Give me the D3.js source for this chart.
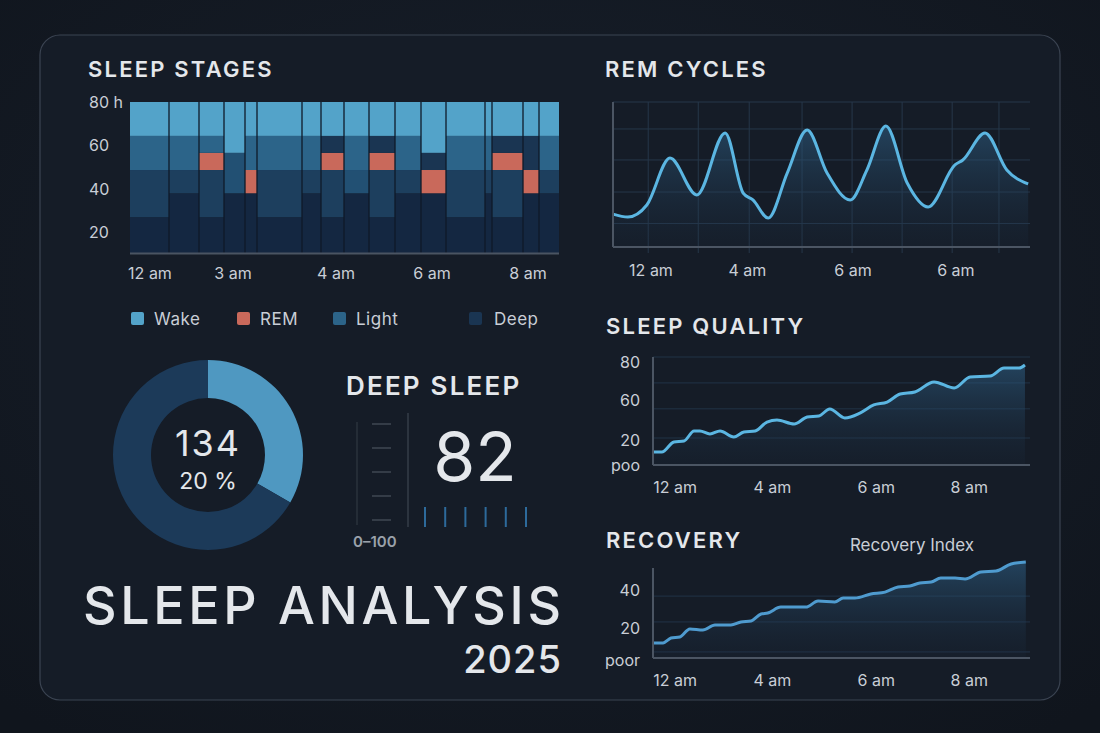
<!DOCTYPE html>
<html><head><meta charset="utf-8">
<script src="https://cdn.jsdelivr.net/npm/d3@7/dist/d3.min.js"></script>
<style>
html,body{margin:0;padding:0;background:#121821;}
svg{display:block;font-family:Inter,"Open Sans",sans-serif;}
</style></head><body>
<svg id="c" width="1100" height="733"></svg>
<script>
// ---------- DATA ----------
const stageColumns = [
  {d:39, segs:[["deep",27],["mid",48.7],["light",64.4],["wake",80]]},
  {d:30, segs:[["deep",38],["mid",48.7],["light",64.4],["wake",80]]},
  {d:25, segs:[["deep",27],["mid",48.7],["rem",56.6],["light",64.4],["wake",80]]},
  {d:21, segs:[["deep",38],["mid2",56.6],["wake",80]]},
  {d:12, segs:[["deep",38],["rem",48.7],["light",64.4],["wake",80]]},
  {d:45, segs:[["deep",27],["mid",48.7],["light",64.4],["wake",80]]},
  {d:19, segs:[["deep",38],["mid",48.7],["light",64.4],["wake",80]]},
  {d:23, segs:[["deep",27],["mid",48.7],["rem",56.6],["dark",64.4],["wake",80]]},
  {d:25, segs:[["deep",38],["mid2",48.7],["light",64.4],["wake",80]]},
  {d:26, segs:[["deep",27],["mid",48.7],["rem",56.6],["dark",64.4],["wake",80]]},
  {d:26, segs:[["deep",38],["mid",48.7],["light",64.4],["wake",80]]},
  {d:25, segs:[["deep",38],["rem",48.7],["dark",56.6],["wake",80]]},
  {d:39, segs:[["deep",27],["mid",48.7],["light",64.4],["wake",80]]},
  {d:7,  segs:[["deep",38],["mid",48.7],["light",64.4],["wake",80]]},
  {d:31, segs:[["deep",27],["mid",48.7],["rem",56.6],["dark",64.4],["wake",80]]},
  {d:16, segs:[["deep",38],["rem",48.7],["dark",64.4],["wake",80]]},
  {d:20, segs:[["deep",38],["mid",48.7],["light",64.4],["wake",80]]}
];
const stageBase = 10.5;
const stageYTicks = [20,40,60,80];
const stageYTickLabels = ["20","40","60","80 h"];
const stageXLabels = ["12 am","3 am","4 am","6 am","8 am"];
const stageXLabelMin = [20,103,206,302,398];
const legendItems = ["Wake","REM","Light","Deep"];

const remHours = [0,.32,.73,1.23,1.81,2.42,2.81,3.02,3.35,3.76,4.19,4.62,5.12,5.48,5.89,6.35,6.8,7.38,7.55,8.03,8.5,8.96];
const remValues = [22.4,20.4,28.6,60.5,35.4,77.6,36.7,32,19.7,50.3,79.6,50.3,32,52.4,82.3,43.5,27.2,55.8,59.2,77.6,52.4,42.9];
const remGridX = [.76,1.84,2.94,4.08,5.16,6.24,7.32,8.33];
const remGridY = [16,37.4,59.2,80.3];
const remXLabels = ["12 am","4 am","6 am","6 am"];
const remXLabelHours = [.82,2.9,5.18,7.4];

const qualHours = [0,.21,.5,.74,.98,1.12,1.36,1.6,1.93,2.17,2.44,2.72,2.96,3.37,3.68,3.96,4.22,4.58,4.94,5.27,5.59,5.9,6.25,6.71,7.19,7.57,8.05,8.38,8.74,8.88];
const qualValues = [12,12,21.3,22.2,31.5,31.5,28.7,31.5,25.9,30.6,31.5,39.8,41.7,38,44.4,45.4,51.9,43.5,48.1,55.6,58.3,65.7,67.6,76.9,71.3,81.5,82.4,89.8,89.8,92.6];
const qualTickVals = [0,23,60,95];
const qualTickLabels = ["poo","20","60","80"];
const qualGrid = [25,52,76,100];

const recHours = [0,.24,.43,.64,.88,1.19,1.48,1.86,2.1,2.34,2.58,2.74,3.05,3.39,3.65,3.94,4.34,4.54,4.82,5.2,5.54,5.85,6.13,6.37,6.64,6.87,7.21,7.45,7.83,8.19,8.55,8.9];
const recValues = [12.1,12.1,14.7,15.3,19.5,18.9,21.6,21.6,23.2,23.7,27.4,27.9,31,31,31,34.2,33.7,35.8,35.8,37.9,38.9,41.6,42.1,43.7,44.2,46.3,46.3,45.8,49.5,50,53.7,54.7];
const recTickVals = [3,20,40];
const recTickLabels = ["poor","20","40"];
const recGrid = [7.4,23.2,36.8];
const lowXLabels = ["12 am","4 am","6 am","8 am"];
const lowXLabelHours = [.53,2.85,5.33,7.55];

const donutValues = [1,2];
const donutCenter = ["134","20 %"];
const deepScore = 82;
const gaugeTicks = [0,25,50,75,100];
const gaugeBars = [0,1,2,3,4,5];

// ---------- DRAW ----------
const svg = d3.select("#c");
const defs = svg.append("defs");
const bg = defs.append("radialGradient").attr("id","bg").attr("cx","50%").attr("cy","40%").attr("r","75%");
bg.append("stop").attr("offset","0%").attr("stop-color","#18202c");
bg.append("stop").attr("offset","100%").attr("stop-color","#10151d");
svg.append("rect").attr("width",1100).attr("height",733).attr("fill","url(#bg)");
svg.append("rect").attr("x",40).attr("y",35).attr("width",1020).attr("height",665).attr("rx",20)
  .attr("fill","#151c27").attr("stroke","#3b4452").attr("stroke-width",1.2);

const txt = "#e4e7eb", sub = "#c9ced6";
function title(t,x,y,size){
  svg.append("text").attr("x",x).attr("y",y).text(t).attr("fill",txt)
    .attr("font-size",size||22).attr("font-weight",600).attr("letter-spacing",2.2);
}
title("SLEEP STAGES",88,77);
title("REM CYCLES",605,77);
title("SLEEP QUALITY",606,334);
title("RECOVERY",606,548);
title("DEEP SLEEP",346,395,26);

const stageColor = {deep:"#142741",mid:"#1d3f5e",mid2:"#225073",light:"#2c6489",dark:"#1a3552",rem:"#c9695b",wake:"#53a3c9"};
const total = d3.sum(stageColumns,d=>d.d);
const sx = d3.scaleLinear().domain([0,total]).range([130,559]);
const sy = d3.scaleLinear().domain([stageBase,80]).range([253,102]);
let acc = 0;
const rects = [];
stageColumns.forEach(c=>{
  let prev = stageBase;
  c.segs.forEach(([k,top])=>{ rects.push({x0:acc,x1:acc+c.d,y0:prev,y1:top,k}); prev=top; });
  acc += c.d;
});
const sg = svg.append("g");
sg.selectAll("rect").data(rects).join("rect")
  .attr("x",d=>sx(d.x0)).attr("width",d=>sx(d.x1)-sx(d.x0))
  .attr("y",d=>sy(d.y1)).attr("height",d=>sy(d.y0)-sy(d.y1))
  .attr("fill",d=>stageColor[d.k]);
acc=0;
const bounds=[];stageColumns.forEach(c=>{acc+=c.d;bounds.push(acc);});
sg.selectAll("line.b").data(bounds.slice(0,-1)).join("line")
  .attr("x1",d=>sx(d)).attr("x2",d=>sx(d)).attr("y1",102).attr("y2",253)
  .attr("stroke","#0f1a28").attr("stroke-width",1.3);
sg.append("line").attr("x1",130).attr("x2",559).attr("y1",253.5).attr("y2",253.5).attr("stroke","#4a5462").attr("stroke-width",2);
sg.selectAll("text.y").data(stageYTicks).join("text").attr("x",89).attr("y",d=>sy(d)+6)
  .text((d,i)=>stageYTickLabels[i]).attr("fill",sub).attr("font-size",16);
sg.selectAll("text.x").data(stageXLabels).join("text").attr("x",(d,i)=>sx(stageXLabelMin[i])).attr("y",279)
  .attr("text-anchor","middle").text(d=>d).attr("fill",sub).attr("font-size",16);

const legCol = [stageColor.wake,stageColor.rem,stageColor.light,stageColor.dark];
const legX = [131,237,333,469];
const lg = svg.selectAll("g.leg").data(legendItems).join("g").attr("transform",(d,i)=>`translate(${legX[i]},312)`);
lg.append("rect").attr("width",13).attr("height",13).attr("rx",2).attr("fill",(d,i)=>legCol[i]);
lg.append("text").attr("x",(d,i)=>i==3?25:23).attr("y",13).text(d=>d).attr("fill",sub).attr("font-size",17).attr("letter-spacing",0.5);

const pie = d3.pie().sort(null)(donutValues);
const arc = d3.arc().innerRadius(57).outerRadius(95);
const dg = svg.append("g").attr("transform","translate(208,455)");
dg.selectAll("path").data(pie).join("path").attr("d",arc).attr("fill",(d,i)=>i==0?"#4f98c1":"#1c3a59");
dg.append("text").attr("y",1).attr("text-anchor","middle").text(donutCenter[0]).attr("fill",txt).attr("font-size",36).attr("letter-spacing",2);
dg.append("text").attr("y",34).attr("text-anchor","middle").text(donutCenter[1]).attr("fill",txt).attr("font-size",23);

const gy = d3.scaleLinear().domain([0,100]).range([520,424]);
svg.append("line").attr("x1",357).attr("x2",357).attr("y1",422).attr("y2",525).attr("stroke","#2a323d").attr("stroke-width",1.5);
svg.append("line").attr("x1",408).attr("x2",408).attr("y1",413).attr("y2",527).attr("stroke","#353d48").attr("stroke-width",1.5);
svg.selectAll("line.gt").data(gaugeTicks).join("line").attr("x1",372).attr("x2",391)
  .attr("y1",d=>gy(d)).attr("y2",d=>gy(d)).attr("stroke","#3f4753").attr("stroke-width",1.5);
svg.append("text").attr("x",353).attr("y",547).text("0–100").attr("fill","#9aa1aa").attr("font-size",15).attr("font-weight",600);
svg.append("text").attr("x",475).attr("y",481).attr("text-anchor","middle").text(deepScore).attr("fill",txt).attr("font-size",68);
const gbx = d3.scaleLinear().domain([0,5]).range([425,526]);
svg.selectAll("line.gb").data(gaugeBars).join("line").attr("x1",d=>gbx(d)).attr("x2",d=>gbx(d))
  .attr("y1",507).attr("y2",527).attr("stroke","#2d6a9b").attr("stroke-width",2);

svg.append("text").attr("x",83).attr("y",624).text("SLEEP ANALYSIS").attr("fill",txt).attr("font-size",52)
  .attr("font-weight",500).attr("textLength",478).attr("lengthAdjust","spacing");
svg.append("text").attr("x",562).attr("y",673).attr("text-anchor","end").text("2025").attr("fill",txt).attr("font-size",38).attr("font-weight",500).attr("letter-spacing",1);

const ag = defs.append("linearGradient").attr("id","ag").attr("x1",0).attr("x2",0).attr("y1",0).attr("y2",1);
ag.append("stop").attr("offset","0%").attr("stop-color","#2f6289").attr("stop-opacity",0.55);
ag.append("stop").attr("offset","100%").attr("stop-color","#1b2c40").attr("stop-opacity",0.15);

const rx = d3.scaleLinear().domain([0,9]).range([613,1030]);
const ry = d3.scaleLinear().domain([0,100]).range([247,100]);
const rg = svg.append("g");
rg.selectAll("line.gx").data(remGridX).join("line").attr("x1",d=>rx(d)).attr("x2",d=>rx(d)).attr("y1",102).attr("y2",253).attr("stroke","#26374a");
rg.selectAll("line.gy").data(remGridY).join("line").attr("x1",613).attr("x2",1030).attr("y1",d=>ry(d)).attr("y2",d=>ry(d)).attr("stroke","#26374a");
rg.append("line").attr("x1",613).attr("x2",1030).attr("y1",102).attr("y2",102).attr("stroke","#26374a");
const remPts = remHours.map((h,i)=>[h,remValues[i]]);
rg.append("path").datum(remPts).attr("fill","url(#ag)")
  .attr("d",d3.area().curve(d3.curveMonotoneX).x(d=>rx(d[0])).y0(247).y1(d=>ry(d[1])));
rg.append("path").datum(remPts).attr("fill","none").attr("stroke","#5bb6e2").attr("stroke-width",3)
  .attr("d",d3.line().curve(d3.curveMonotoneX).x(d=>rx(d[0])).y(d=>ry(d[1])));
rg.append("line").attr("x1",613).attr("x2",613).attr("y1",102).attr("y2",247).attr("stroke","#4b5563").attr("stroke-width",2);
rg.append("line").attr("x1",613).attr("x2",1030).attr("y1",247).attr("y2",247).attr("stroke","#4b5563").attr("stroke-width",2);
rg.selectAll("text").data(remXLabels).join("text").attr("x",(d,i)=>rx(remXLabelHours[i])).attr("y",276)
  .attr("text-anchor","middle").text(d=>d).attr("fill",sub).attr("font-size",16);

function lowChart(hours,values,yDom,yRange,top,bottom,tickVals,tickLabels,grid,labelY,color){
  const x = d3.scaleLinear().domain([0,9]).range([653,1030]);
  const y = d3.scaleLinear().domain(yDom).range(yRange);
  const g = svg.append("g");
  g.selectAll("line.g").data(grid).join("line").attr("x1",653).attr("x2",1030).attr("y1",d=>y(d)).attr("y2",d=>y(d)).attr("stroke","#213347");
  const pts = hours.map((h,i)=>[h,values[i]]);
  g.append("path").datum(pts).attr("fill","url(#ag)")
    .attr("d",d3.area().curve(d3.curveMonotoneX).x(d=>x(d[0])).y0(bottom).y1(d=>y(d[1])));
  g.append("path").datum(pts).attr("fill","none").attr("stroke",color).attr("stroke-width",3)
    .attr("d",d3.line().curve(d3.curveMonotoneX).x(d=>x(d[0])).y(d=>y(d[1])));
  g.append("line").attr("x1",653).attr("x2",653).attr("y1",top).attr("y2",bottom).attr("stroke","#4b5563").attr("stroke-width",2);
  g.append("line").attr("x1",653).attr("x2",1030).attr("y1",bottom).attr("y2",bottom).attr("stroke","#4b5563").attr("stroke-width",2);
  g.selectAll("text.t").data(tickVals).join("text").attr("x",640).attr("y",d=>y(d)+6).attr("text-anchor","end")
    .text((d,i)=>tickLabels[i]).attr("fill",sub).attr("font-size",16);
  g.selectAll("text.x").data(lowXLabels).join("text").attr("x",(d,i)=>x(lowXLabelHours[i])).attr("y",labelY)
    .attr("text-anchor","middle").text(d=>d).attr("fill",sub).attr("font-size",16);
  return g;
}
lowChart(qualHours,qualValues,[0,100],[465,357],357,465,qualTickVals,qualTickLabels,qualGrid,493,"#5bb6e2");
lowChart(recHours,recValues,[4.2,51.6],[658,568],568,658,recTickVals,recTickLabels,recGrid,686,"#4f9bcf");
svg.append("text").attr("x",912).attr("y",551).attr("text-anchor","middle").text("Recovery Index").attr("fill",sub).attr("font-size",17);
</script></body></html>
